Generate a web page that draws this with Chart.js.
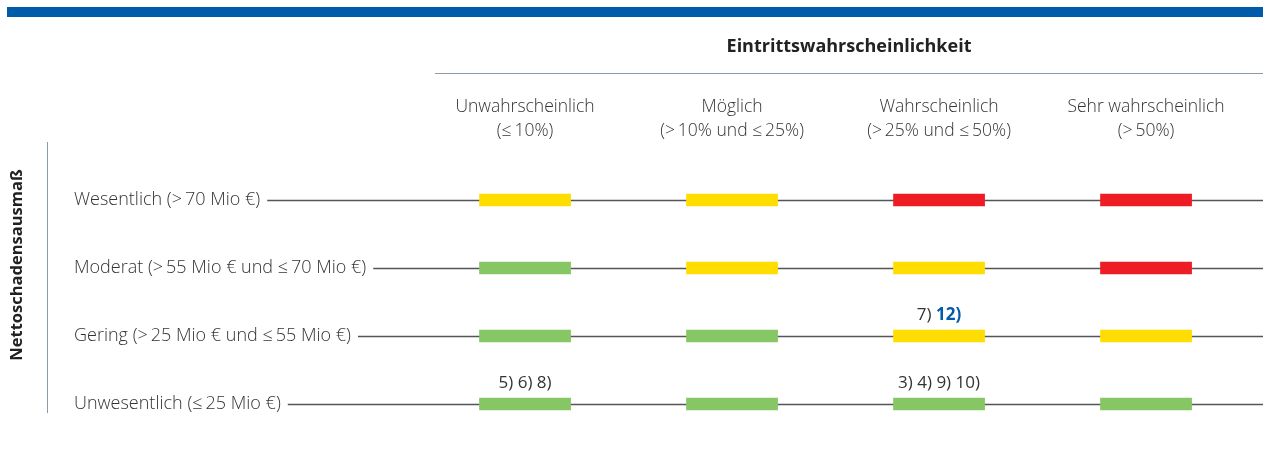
<!DOCTYPE html>
<html lang="de">
<head>
<meta charset="utf-8">
<title>Risikomatrix</title>
<script src="https://cdn.jsdelivr.net/npm/chart.js@4/dist/chart.umd.min.js"></script>
<style>
  html, body { margin: 0; padding: 0; background: #fff; }
  #wrap { width: 1263px; height: 453px; position: relative; }
</style>
</head>
<body>
<div id="wrap"><canvas id="riskChart"></canvas></div>
<script>
// Zeilen: Nettoschadensausmaß (oben = höchstes)
const rowLabels = [
  'Wesentlich (>\u200970 Mio €)',
  'Moderat (>\u200955 Mio € und \u2264\u200970 Mio €)',
  'Gering (>\u200925 Mio € und \u2264\u200955 Mio €)',
  'Unwesentlich (\u2264\u200925 Mio €)'
];

// Spalten: Eintrittswahrscheinlichkeit
const colLabels = [
  ['Unwahrscheinlich', '(\u2264\u200910%)'],
  ['Möglich', '(>\u200910% und \u2264\u200925%)'],
  ['Wahrscheinlich', '(>\u200925% und \u2264\u200950%)'],
  ['Sehr wahrscheinlich', '(>\u200950%)']
];

// Risikostufe je Zelle, Zeile x Spalte
const riskLevels = [
  ['mittel', 'mittel', 'hoch', 'hoch'],
  ['gering', 'mittel', 'mittel', 'hoch'],
  ['gering', 'gering', 'mittel', 'mittel'],
  ['gering', 'gering', 'gering', 'gering']
];

// Fußnoten-Verweise je Zelle [zeile, spalte, teile]
const notes = [
  [3, 0, [['5) 6) 8)', false]]],
  [3, 2, [['3) 4) 9) 10)', false]]],
  [2, 2, [['7) ', false], ['12)', true]]]
];

const levelColors = { gering: '#86c664', mittel: '#ffdd00', hoch: '#ee1c25' };
const fontFamily = "'Open Sans', 'Noto Sans', sans-serif";
const rowFont = "300 18px " + fontFamily;

const datasets = colLabels.map((c, ci) => ({
  label: c.join(' '),
  data: rowLabels.map(() => [ci + 0.28, ci + 0.72]),
  backgroundColor: riskLevels.map(r => levelColors[r[ci]]),
  barThickness: 12,
  grouped: false,
  borderSkipped: false
}));

const decorPlugin = {
  id: 'decor',
  beforeDatasetsDraw(chart) {
    const ctx = chart.ctx;
    const y = chart.scales.y;
    ctx.save();
    // blauer Balken oben
    ctx.fillStyle = '#005baa';
    ctx.fillRect(7, 7, chart.width - 7, 10);
    // Linie unter Titel
    ctx.strokeStyle = '#8c9aa6';
    ctx.lineWidth = 1;
    ctx.beginPath();
    ctx.moveTo(435, 73.5);
    ctx.lineTo(chart.width, 73.5);
    ctx.stroke();
    // senkrechte Linie links
    ctx.beginPath();
    ctx.moveTo(47.5, 142);
    ctx.lineTo(47.5, 413);
    ctx.stroke();
    // y-Titel
    ctx.translate(17, 265);
    ctx.rotate(-Math.PI / 2);
    ctx.font = "bold 16.5px " + fontFamily;
    ctx.fillStyle = '#222';
    ctx.textAlign = 'center';
    ctx.textBaseline = 'middle';
    ctx.fillText('Nettoschadensausmaß', 0, 0);
    ctx.restore();
    // Zeilenlinien
    ctx.save();
    ctx.font = rowFont;
    ctx.strokeStyle = '#555';
    ctx.lineWidth = 1.3;
    rowLabels.forEach((lab, i) => {
      const py = Math.round(y.getPixelForValue(i)) + 0.5;
      const x0 = y.left + ctx.measureText(lab).width + 7;
      ctx.beginPath();
      ctx.moveTo(x0, py);
      ctx.lineTo(chart.width, py);
      ctx.stroke();
    });
    ctx.restore();
  },
  afterDatasetsDraw(chart) {
    const ctx = chart.ctx;
    const x = chart.scales.x;
    const y = chart.scales.y;
    ctx.save();
    ctx.textBaseline = 'middle';
    notes.forEach(([ri, ci, parts]) => {
      const cx = x.getPixelForValue(ci + 0.5);
      const cy = y.getPixelForValue(ri) - 21;
      const widths = parts.map(([t, b]) => {
        ctx.font = (b ? 'bold ' : '') + '17px ' + fontFamily;
        return ctx.measureText(t).width;
      });
      let px = cx - widths.reduce((a, b) => a + b, 0) / 2;
      parts.forEach(([t, b], k) => {
        ctx.font = (b ? 'bold ' : '') + '17px ' + fontFamily;
        ctx.fillStyle = b ? '#005baa' : '#333';
        ctx.textAlign = 'left';
        ctx.fillText(t, px, cy);
        px += widths[k];
      });
    });
    ctx.restore();
  }
};

new Chart(document.getElementById('riskChart'), {
  type: 'bar',
  data: { labels: rowLabels, datasets: datasets },
  options: {
    indexAxis: 'y',
    responsive: true,
    maintainAspectRatio: false,
    animation: false,
    layout: { padding: { left: 74, right: 0, top: 0, bottom: 15 } },
    plugins: { legend: { display: false }, tooltip: { enabled: false } },
    scales: {
      x: {
        type: 'linear',
        position: 'top',
        min: 0.065,
        max: 4.065,
        afterBuildTicks(scale) {
          scale.ticks = colLabels.map((c, i) => ({ value: i + 0.5 }));
        },
        afterFit(scale) { scale.height = 166; },
        grid: { display: false, drawTicks: false },
        border: { display: false },
        ticks: {
          autoSkip: false,
          maxRotation: 0,
          padding: 23,
          color: '#333',
          font: { family: fontFamily, size: 17.5, weight: '300', lineHeight: 24 / 17.5 },
          callback(value) { return colLabels[Math.round(value - 0.5)]; }
        },
        title: {
          display: true,
          text: 'Eintrittswahrscheinlichkeit',
          color: '#222',
          font: { family: fontFamily, size: 18, weight: 'bold', lineHeight: 1.2 },
          padding: { top: 36, bottom: 0 }
        }
      },
      y: {
        type: 'category',
        offset: true,
        afterFit(scale) { scale.width = 435 - 74; },
        grid: { display: false, drawTicks: false },
        border: { display: false },
        ticks: {
          crossAlign: 'far',
          color: '#333',
          font: { family: fontFamily, size: 18, weight: '300' }
        }
      }
    }
  },
  plugins: [decorPlugin]
});
</script>
</body>
</html>
